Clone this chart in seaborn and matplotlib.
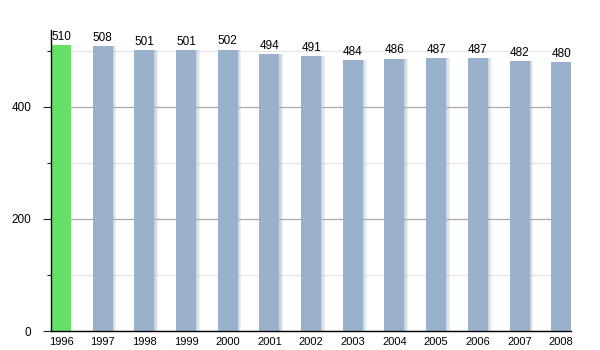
import matplotlib
matplotlib.use("Agg")
import matplotlib.pyplot as plt
from matplotlib.ticker import MultipleLocator
import seaborn as sns
import pandas as pd

years = ["1996", "1997", "1998", "1999", "2000", "2001", "2002",
         "2003", "2004", "2005", "2006", "2007", "2008"]
population = [510, 508, 501, 501, 502, 494, 491, 484, 486, 487, 487, 482, 480]
bar_colors = ["#66e066"] + ["#99b1cb"] * 12

df = pd.DataFrame({"year": years, "population": population})

sns.set_style("white")
plt.rcParams["font.family"] = ["Liberation Sans", "DejaVu Sans"]

fig = plt.figure(figsize=(6, 3.5), dpi=100)
ax = fig.add_axes([0.085, 0.054, 0.867, 0.860])

# soft shadow to the right of each blue bar
for i, v in enumerate(population[1:], start=1):
    for k, a in enumerate([0.55, 0.35, 0.18]):
        ax.bar(i + 0.24 + 0.03 * k + 0.015, v, width=0.03,
               color=bar_colors[i], alpha=a, linewidth=0, zorder=2)

sns.barplot(data=df, x="year", y="population", hue="year",
            palette=bar_colors, legend=False, width=0.48,
            saturation=1, linewidth=0, ax=ax, zorder=3)

for i, v in enumerate(population):
    ax.text(i, v + 4, str(v), ha="center", va="bottom", fontsize=8.5,
            color="black", zorder=4)

ax.set_xlim(-0.24, 12.24)
ax.set_ylim(0, 537)
ax.yaxis.set_major_locator(MultipleLocator(200))
ax.yaxis.set_minor_locator(MultipleLocator(100))
ax.grid(axis="y", which="major", color="#aaaaaa", linewidth=0.9, zorder=1)
ax.grid(axis="y", which="minor", color="#e6e6e6", linewidth=0.9, zorder=1)
ax.set_axisbelow(True)

ax.set_xlabel("")
ax.set_ylabel("")
for s in ["top", "right"]:
    ax.spines[s].set_visible(False)
for s in ["left", "bottom"]:
    ax.spines[s].set_color("black")
    ax.spines[s].set_linewidth(1.0)
    ax.spines[s].set_zorder(5)

ax.tick_params(axis="y", which="major", left=True, length=6, width=0.8,
               labelsize=8.5, pad=8, labelcolor="black")
ax.tick_params(axis="y", which="minor", left=True, length=3, width=0.8)
ax.tick_params(axis="x", bottom=False, labelsize=8, pad=1, labelcolor="black")

fig.savefig("out.png", dpi=100)
